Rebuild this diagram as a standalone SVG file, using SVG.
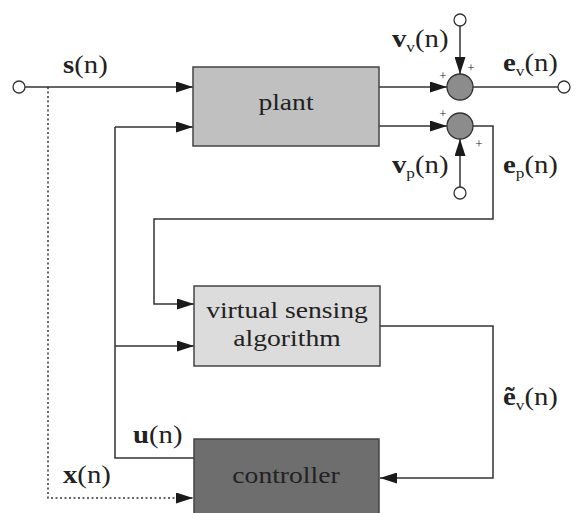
<svg xmlns="http://www.w3.org/2000/svg" width="576" height="513" viewBox="0 0 576 513">
  <style>
    .wire { fill: none; stroke: #333; stroke-width: 1.5; }
    .dot { fill: none; stroke: #333; stroke-width: 1.5; stroke-dasharray: 2 2.5; }
    .term { fill: #fff; stroke: #333; stroke-width: 1.3; }
    .sum { fill: #8c8c8c; stroke: #333; stroke-width: 1.3; }
    .box { stroke: #444; stroke-width: 1.5; }
    .lbl { font-family: "Liberation Serif", "Times New Roman", serif; font-size: 25px; fill: #222; }
    .blk { font-family: "Liberation Serif", "Times New Roman", serif; font-size: 24px; fill: #222; text-anchor: middle; }
    .b { font-weight: bold; }
    .sub { font-size: 15px; }
    .plus { font-family: "Liberation Serif", "Times New Roman", serif; font-size: 13px; fill: #222; text-anchor: middle; }
  </style>
  <defs>
    <marker id="arr" viewBox="0 0 17 11" refX="17" refY="5.5" markerWidth="17" markerHeight="11" markerUnits="userSpaceOnUse" orient="auto">
      <path d="M0,0 L17,5.5 L0,11 Z" fill="#1a1a1a"/>
    </marker>
  </defs>

  <!-- connectors -->
  <g id="connectors">
    <!-- reference signal into the plant -->
    <path class="wire" d="M25,87 H193" marker-end="url(#arr)"/>
    <!-- reference tap to the controller (dotted) -->
    <path class="dot" d="M48,87 V498 H193" marker-end="url(#arr)"/>
    <!-- control signal loop -->
    <path class="wire" d="M194,458 H115 V127"/>
    <path class="wire" d="M115,127 H193" marker-end="url(#arr)"/>
    <path class="wire" d="M115,346 H194" marker-end="url(#arr)"/>
    <!-- plant outputs to summing junctions -->
    <path class="wire" d="M379,87 H447" marker-end="url(#arr)"/>
    <path class="wire" d="M379,126 H447" marker-end="url(#arr)"/>
    <!-- disturbances -->
    <path class="wire" d="M460,26 V74" marker-end="url(#arr)"/>
    <path class="wire" d="M460,187 V139" marker-end="url(#arr)"/>
    <!-- virtual error output -->
    <path class="wire" d="M473,87 H558"/>
    <!-- physical error to the virtual sensing algorithm -->
    <path class="wire" d="M473,126 H493 V219 H154 V304 H194" marker-end="url(#arr)"/>
    <!-- estimated virtual error to the controller -->
    <path class="wire" d="M380,326 H493 V478 H380" marker-end="url(#arr)"/>
  </g>

  <!-- terminals -->
  <g id="terminals">
    <circle class="term" cx="19" cy="87" r="6"/>
    <circle class="term" cx="460" cy="20" r="6"/>
    <circle class="term" cx="460" cy="193" r="6"/>
    <circle class="term" cx="564" cy="87" r="6"/>
  </g>

  <g id="plant">
    <rect class="box" x="193" y="67" width="186" height="79" fill="#c0c0c0"/>
    <text class="blk" transform="translate(286,110) scale(1.15,1)">plant</text>
  </g>

  <g id="sum-virtual">
    <circle class="sum" cx="460" cy="87" r="13"/>
    <text class="plus" x="443" y="80">+</text>
    <text class="plus" x="471" y="72">+</text>
  </g>

  <g id="sum-physical">
    <circle class="sum" cx="460" cy="126" r="13"/>
    <text class="plus" x="443" y="118">+</text>
    <text class="plus" x="479" y="148">+</text>
  </g>

  <g id="virtual-sensing">
    <rect class="box" x="194" y="286" width="186" height="80" fill="#dcdcdc"/>
    <text class="blk" transform="translate(287,318) scale(1.15,1)">virtual sensing</text>
    <text class="blk" transform="translate(287,346) scale(1.15,1)">algorithm</text>
  </g>

  <g id="controller">
    <rect class="box" x="194" y="439" width="185" height="80" fill="#6e6e6e"/>
    <text class="blk" transform="translate(286,483) scale(1.15,1)">controller</text>
  </g>

  <!-- signal labels -->
  <g id="labels">
    <text class="lbl" transform="translate(63,73) scale(1.15,1)"><tspan class="b">s</tspan>(n)</text>
    <text class="lbl" transform="translate(392,47) scale(1.15,1)"><tspan class="b">v</tspan><tspan class="sub" dy="5">v</tspan><tspan dy="-5">(n)</tspan></text>
    <text class="lbl" transform="translate(503,71) scale(1.15,1)"><tspan class="b">e</tspan><tspan class="sub" dy="5">v</tspan><tspan dy="-5">(n)</tspan></text>
    <text class="lbl" transform="translate(392,173) scale(1.15,1)"><tspan class="b">v</tspan><tspan class="sub" dy="5">p</tspan><tspan dy="-5">(n)</tspan></text>
    <text class="lbl" transform="translate(503,173) scale(1.15,1)"><tspan class="b">e</tspan><tspan class="sub" dy="5">p</tspan><tspan dy="-5">(n)</tspan></text>
    <text class="lbl" transform="translate(503,405) scale(1.15,1)"><tspan class="b">ẽ</tspan><tspan class="sub" dy="5">v</tspan><tspan dy="-5">(n)</tspan></text>
    <text class="lbl" transform="translate(133,443) scale(1.15,1)"><tspan class="b">u</tspan>(n)</text>
    <text class="lbl" transform="translate(63,483) scale(1.15,1)"><tspan class="b">x</tspan>(n)</text>
  </g>
</svg>
